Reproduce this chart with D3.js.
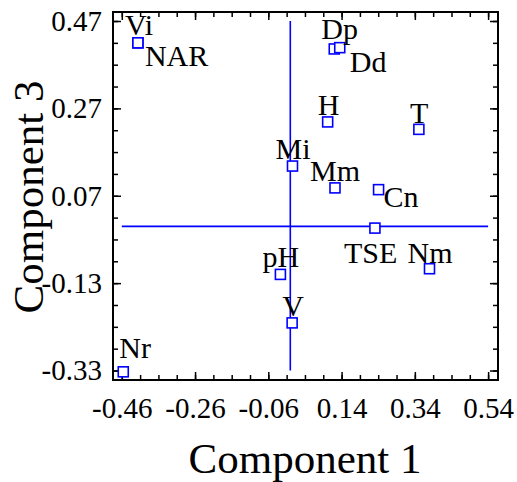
<!DOCTYPE html>
<html>
<head>
<meta charset="utf-8">
<script src="https://cdn.jsdelivr.net/npm/d3@7"></script>
<style>
  body { margin: 0; background: #fff; }
  text { font-family: "Liberation Serif", "Times New Roman", serif; }
</style>
</head>
<body>
<div class="chart"></div>
<script>
// point labels and their scores on components 1 and 3
const labels = ['Vi', 'NAR', 'Dp', 'Dd', 'H', 'T', 'Mi', 'Mm', 'Cn', 'TSE', 'Nm', 'pH', 'V', 'Nr'];
const comp1 = [-0.416, -0.416, 0.120, 0.135, 0.102, 0.351, 0.006, 0.122, 0.241, 0.231, 0.380, -0.027, 0.005, -0.456];
const comp3 = [0.420, 0.420, 0.406, 0.409, 0.239, 0.222, 0.138, 0.088, 0.084, -0.004, -0.097, -0.110, -0.221, -0.333];

const xTicks = [-0.46, -0.26, -0.06, 0.14, 0.34, 0.54];
const yTicks = [-0.33, -0.13, 0.07, 0.27, 0.47];

// label placement relative to the marker (dx, dy to text baseline start)
const labelOffsets = {
  'Vi': [-13, -8], 'NAR': [7, 23], 'Dp': [-13, -10], 'Dd': [10, 24],
  'H': [-10, -7], 'T': [-9, -6], 'Mi': [-17, -7], 'Mm': [-25, -7],
  'Cn': [5, 17], 'TSE': [-31, 35], 'Nm': [-22, -6], 'pH': [-18, -7],
  'V': [-10, -7], 'Nr': [-4, -14]
};

const points = labels.map((name, i) => ({ name, x: comp1[i], y: comp3[i] }));

const W = 517, H = 482;
const plot = { left: 113, right: 498, top: 12, bottom: 380 };

const svg = d3.select('.chart')
  .append('svg')
  .attr('width', W)
  .attr('height', H);

const x = d3.scaleLinear().domain([-0.484, 0.567]).range([plot.left, plot.right]);
const y = d3.scaleLinear().domain([-0.3517, 0.4906]).range([plot.bottom, plot.top]);

const minorX = d3.range(0, 21).map(k => -0.46 + k * 0.05);
const minorY = d3.range(0, 17).map(k => -0.33 + k * 0.05);
const fmt = d => d.toFixed(2);

// crosshair at origin, spanning the labelled tick range
svg.append('line')
  .attr('x1', x(0)).attr('x2', x(0))
  .attr('y1', y(0.47)).attr('y2', y(-0.33))
  .attr('stroke', '#0000ff').attr('stroke-width', 1.6);
svg.append('line')
  .attr('x1', x(-0.46)).attr('x2', x(0.54))
  .attr('y1', y(0)).attr('y2', y(0))
  .attr('stroke', '#0000ff').attr('stroke-width', 1.6);

function styleAxis(g) {
  g.select('.domain').remove();
  g.selectAll('line').attr('stroke', '#000').attr('stroke-width', 1.5);
  g.selectAll('text')
    .attr('fill', '#000')
    .style('font-family', '"Liberation Serif", serif')
    .style('font-size', '29px');
}

// minor ticks on all four sides
svg.append('g').attr('transform', `translate(0,${plot.bottom})`)
  .call(d3.axisBottom(x).tickValues(minorX).tickSize(-5).tickFormat(''))
  .call(styleAxis);
svg.append('g').attr('transform', `translate(0,${plot.top})`)
  .call(d3.axisTop(x).tickValues(minorX).tickSize(-5).tickFormat(''))
  .call(styleAxis);
svg.append('g').attr('transform', `translate(${plot.left},0)`)
  .call(d3.axisLeft(y).tickValues(minorY).tickSize(-5).tickFormat(''))
  .call(styleAxis);
svg.append('g').attr('transform', `translate(${plot.right},0)`)
  .call(d3.axisRight(y).tickValues(minorY).tickSize(-5).tickFormat(''))
  .call(styleAxis);

// major ticks with labels
svg.append('g').attr('transform', `translate(0,${plot.bottom})`)
  .call(d3.axisBottom(x).tickValues(xTicks).tickSize(-8).tickPadding(17).tickFormat(fmt))
  .call(styleAxis);
svg.append('g').attr('transform', `translate(${plot.left},0)`)
  .call(d3.axisLeft(y).tickValues(yTicks).tickSize(-8).tickPadding(11).tickFormat(fmt))
  .call(styleAxis);
svg.append('g').attr('transform', `translate(${plot.right},0)`)
  .call(d3.axisRight(y).tickValues(yTicks).tickSize(-8).tickFormat(''))
  .call(styleAxis);
svg.append('g').attr('transform', `translate(0,${plot.top})`)
  .call(d3.axisTop(x).tickValues(xTicks).tickSize(-8).tickFormat(''))
  .call(styleAxis);

// frame
svg.append('rect')
  .attr('x', plot.left).attr('y', plot.top)
  .attr('width', plot.right - plot.left).attr('height', plot.bottom - plot.top)
  .attr('fill', 'none')
  .attr('stroke', '#000')
  .attr('stroke-width', 2);

// markers
svg.selectAll('.marker')
  .data(points)
  .enter()
  .append('rect')
  .attr('class', 'marker')
  .attr('x', d => x(d.x) - 5)
  .attr('y', d => y(d.y) - 5)
  .attr('width', 10)
  .attr('height', 10)
  .attr('fill', '#fff')
  .attr('stroke', '#0000ff')
  .attr('stroke-width', 1.6);

svg.selectAll('.plabel')
  .data(points)
  .enter()
  .append('text')
  .attr('class', 'plabel')
  .attr('x', d => x(d.x) + labelOffsets[d.name][0])
  .attr('y', d => y(d.y) + labelOffsets[d.name][1])
  .attr('fill', '#000')
  .style('font-size', '30px')
  .text(d => d.name);

// axis titles
svg.append('text')
  .attr('x', 305)
  .attr('y', 473)
  .attr('text-anchor', 'middle')
  .style('font-size', '43px')
  .text('Component 1');

svg.append('text')
  .attr('transform', 'translate(43,197) rotate(-90)')
  .attr('text-anchor', 'middle')
  .style('font-size', '43px')
  .text('Component 3');
</script>
</body>
</html>
